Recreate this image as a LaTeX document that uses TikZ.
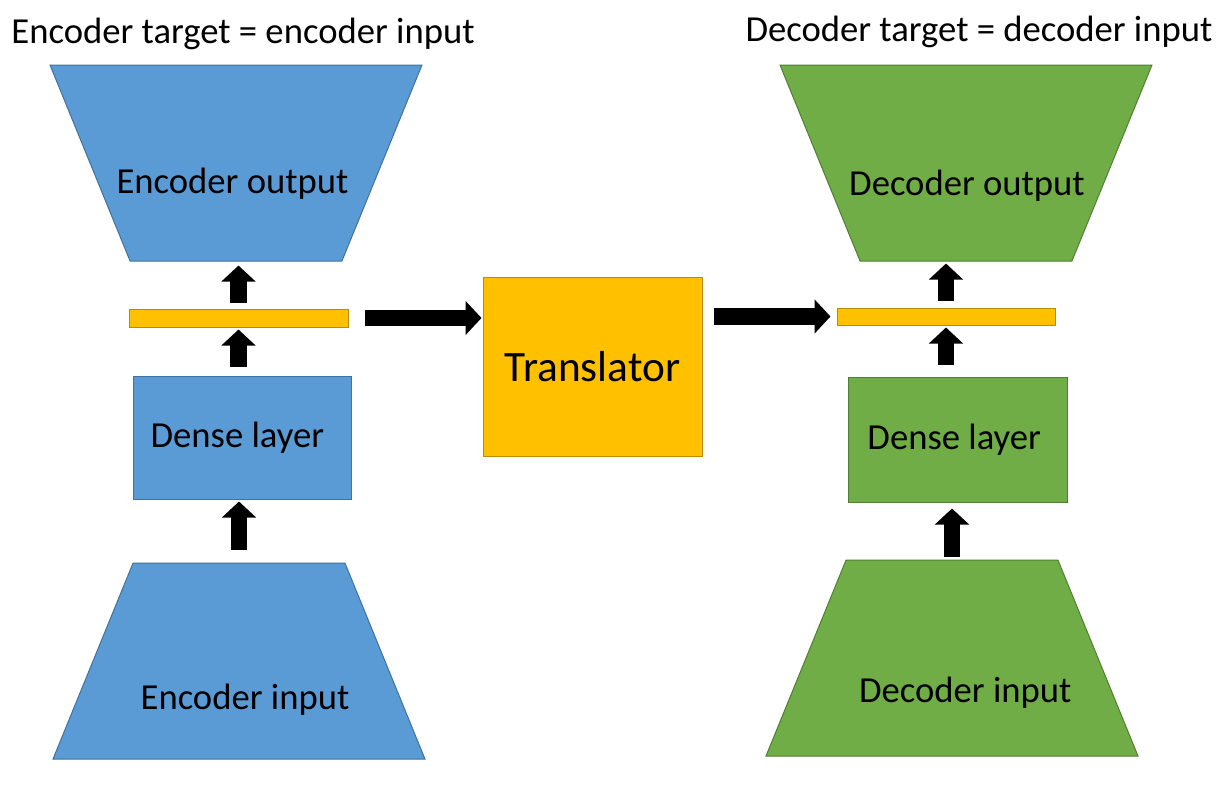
\documentclass[tikz,border=0pt]{standalone}
\usepackage{fontspec}
\setmainfont{Carlito}
\usetikzlibrary{shapes.geometric,arrows.meta}
\definecolor{encfill}{HTML}{5B9BD5}
\definecolor{encline}{HTML}{41719C}
\definecolor{decfill}{HTML}{70AD47}
\definecolor{decline}{HTML}{507E32}
\definecolor{goldfill}{HTML}{FFC000}
\definecolor{goldline}{HTML}{BC8C00}
\begin{document}
\begin{tikzpicture}[x=0.75pt,y=-0.75pt,
    enc/.style={fill=encfill, draw=encline},
    dec/.style={fill=decfill, draw=decline},
    gold/.style={fill=goldfill, draw=goldline},
    funnel/.style={trapezium, trapezium stretches, minimum width=279pt,
      minimum height=147pt, inner sep=1pt, line width=0.75pt},
    layer/.style={rectangle, inner sep=0pt, line width=0.75pt},
    body/.style={font=\fontsize{27.5}{33}\selectfont},
    title/.style={font=\fontsize{27.5}{33}\selectfont},
    bigarrow/.style={line width=12.5pt, -{Triangle[width=25pt,length=12pt]}}]
  \useasboundingbox (0,0) rectangle (1218,796);  % For alignment
  % encoder side
  \node[title] (entitle) at (243,34) {Encoder target = encoder input};
  \node[funnel, enc, trapezium angle=110.7,
    label={[body, xshift=-2.6pt, yshift=-15.75pt]center:Encoder output}] (enout) at (236,163) {};
  \node[layer, gold, minimum width=164.25pt, minimum height=13.5pt] (enbar) at (238.5,318) {};
  \node[layer, enc, body, minimum width=163.5pt, minimum height=92.25pt] (endense) at (242,437.5) {\hspace*{-7pt}Dense layer};
  \node[funnel, enc, trapezium angle=69.3,
    label={[body, xshift=4.5pt, yshift=-29pt]center:Encoder input}] (enin) at (239,661) {};
  % translator
  \node[layer, gold, minimum width=164.25pt, minimum height=134.25pt,
    font=\fontsize{32.5}{39}\selectfont] (trans) at (592.5,366.5) {Translator};
  % decoder side
  \node[title] (dectitle) at (979,32) {Decoder target = decoder input};
  \node[funnel, dec, trapezium angle=110.7,
    label={[body, xshift=0.75pt, yshift=-17pt]center:Decoder output}] (decout) at (966,163) {};
  \node[layer, gold, minimum width=163.5pt, minimum height=12.75pt] (decbar) at (946,316.5) {};
  \node[layer, dec, body, minimum width=164.25pt, minimum height=93.75pt] (decdense) at (957.5,439.5) {\hspace*{-5pt}Dense layer};
  \node[funnel, dec, trapezium angle=69.3,
    label={[body, xshift=10pt, yshift=-26pt]center:Decoder input}] (decin) at (952,658) {};
  % arrows
  \draw[bigarrow, shorten <=9pt, shorten >=1.5pt] (enin.north) -- (enin.north |- endense.south);
  \draw[bigarrow, shorten <=6.75pt, shorten >=1.5pt] (enbar.south |- endense.north) -- (enbar.south);
  \draw[bigarrow, shorten <=4.5pt, shorten >=3pt] (enbar.north) -- (enbar.north |- enout.south);
  \draw[bigarrow, shorten <=12pt, shorten >=0.75pt] (enbar.east) -- (enbar.east -| trans.west);
  \draw[bigarrow, shorten <=8.25pt, shorten >=4.5pt] (trans.east |- decbar.west) -- (decbar.west);
  \draw[bigarrow, shorten <=1.5pt, shorten >=4.5pt] (decin.north) -- (decin.north |- decdense.south);
  \draw[bigarrow, shorten <=9pt, shorten >=1.5pt] (decbar.south |- decdense.north) -- (decbar.south);
  \draw[bigarrow, shorten <=5.25pt, shorten >=1.5pt] (decbar.north) -- (decbar.north |- decout.south);
\end{tikzpicture}
\end{document}
